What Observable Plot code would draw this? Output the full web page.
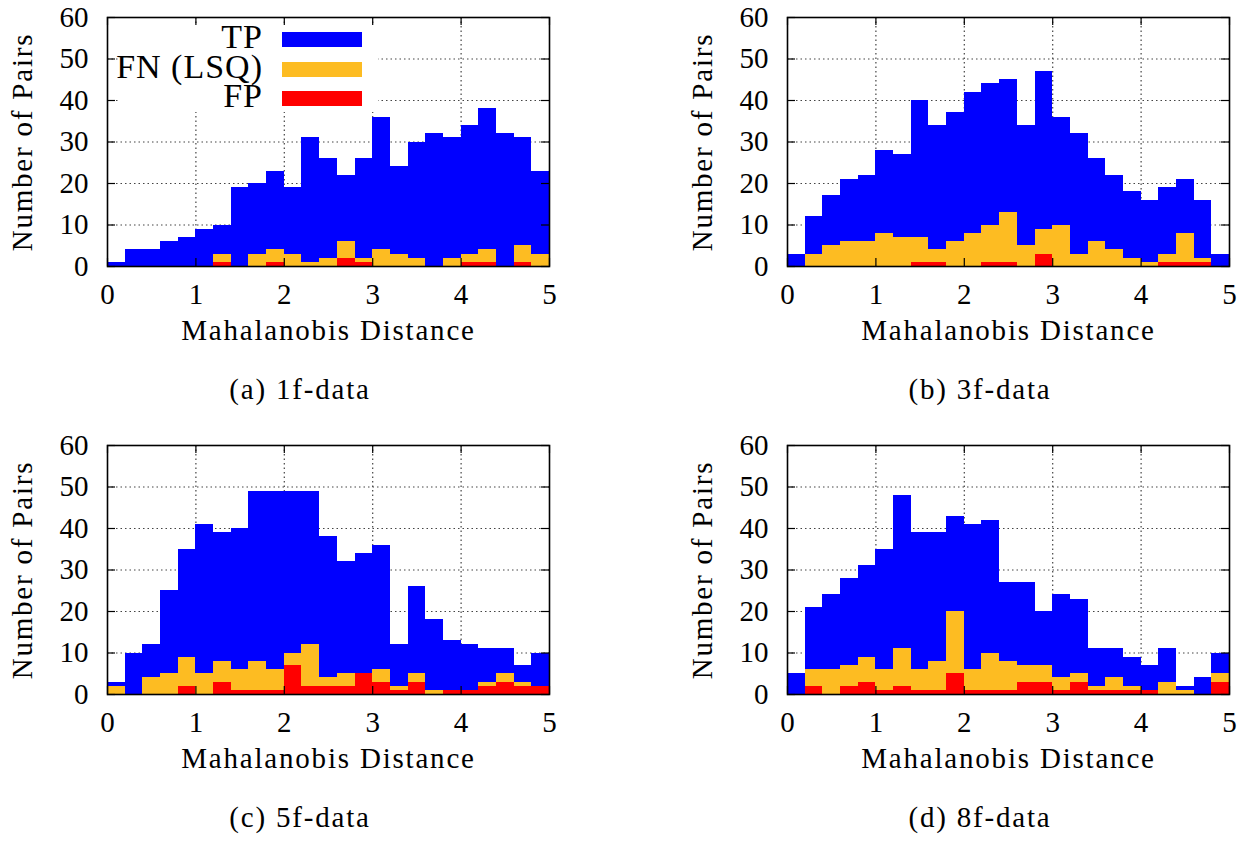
<!DOCTYPE html>
<html>
<head>
<meta charset="utf-8">
<script src="https://cdn.jsdelivr.net/npm/d3@7"></script>
<script src="https://cdn.jsdelivr.net/npm/@observablehq/plot@0.6"></script>
<style>
  html, body { margin: 0; padding: 0; background: white; }
  #root { position: relative; width: 1249px; height: 843px; background: white; font-family: "Liberation Serif", serif; color: black; }
  .panel { position: absolute; width: 624px; height: 420px; }
  .panel svg { position: absolute; left: 0; top: 0; }
  .panel svg text.lbl { letter-spacing: 1.8px; }
  .caption { position: absolute; left: 0; width: 600px; top: 375px; text-align: center; font-size: 29px; line-height: 29px; letter-spacing: 1.8px; white-space: nowrap; }
  .legend { position: absolute; left: 118px; top: 25px; width: 260px; height: 87px; background: white; }
  .lg-text { position: absolute; right: 115px; font-size: 34px; line-height: 28px; letter-spacing: 1px; white-space: nowrap; }
  .lg-sw { position: absolute; left: 164px; width: 80px; height: 15px; }
</style>
</head>
<body>
<div id="root"></div>
<script>
// ---- data ----
const binEdges = [0, 0.2, 0.4, 0.6, 0.8, 1.0, 1.2, 1.4, 1.6, 1.8, 2.0, 2.2, 2.4, 2.6, 2.8, 3.0, 3.2, 3.4, 3.6, 3.8, 4.0, 4.2, 4.4, 4.6, 4.8, 5.0];

const tp1f = [1, 4, 4, 6, 7, 9, 10, 19, 20, 23, 19, 31, 26, 22, 26, 36, 24, 30, 32, 31, 34, 38, 32, 31, 23];
const fn1f = [0, 0, 0, 0, 0, 0, 3, 0, 3, 4, 3, 1, 2, 6, 2, 4, 3, 2, 0, 2, 3, 4, 0, 5, 3];
const fp1f = [0, 0, 0, 0, 0, 0, 1, 0, 0, 1, 0, 0, 0, 2, 1, 0, 0, 0, 0, 0, 1, 1, 0, 1, 0];

const tp3f = [3, 12, 17, 21, 22, 28, 27, 40, 34, 37, 42, 44, 45, 34, 47, 36, 32, 26, 22, 18, 16, 19, 21, 16, 3];
const fn3f = [0, 3, 5, 6, 6, 8, 7, 7, 4, 6, 8, 10, 13, 5, 9, 10, 3, 6, 4, 2, 1, 3, 8, 2, 0];
const fp3f = [0, 0, 0, 0, 0, 0, 0, 1, 1, 0, 0, 1, 1, 0, 3, 0, 0, 0, 0, 0, 0, 1, 1, 1, 0];

const tp5f = [3, 10, 12, 25, 35, 41, 39, 40, 49, 49, 49, 49, 38, 32, 34, 36, 12, 26, 18, 13, 12, 11, 11, 7, 10];
const fn5f = [2, 0, 4, 5, 9, 5, 8, 6, 8, 6, 10, 12, 4, 5, 5, 6, 2, 5, 1, 1, 1, 3, 5, 3, 2];
const fp5f = [0, 0, 0, 0, 2, 0, 3, 1, 1, 1, 7, 2, 2, 2, 5, 3, 1, 3, 0, 1, 1, 2, 3, 2, 2];

const tp8f = [5, 21, 24, 28, 31, 35, 48, 39, 39, 43, 41, 42, 27, 27, 20, 24, 23, 11, 11, 9, 7, 11, 2, 4, 10];
const fn8f = [0, 6, 6, 7, 9, 6, 11, 6, 8, 20, 6, 10, 8, 7, 7, 4, 5, 2, 4, 2, 1, 3, 1, 0, 5];
const fp8f = [0, 2, 0, 2, 3, 1, 2, 1, 1, 5, 1, 1, 1, 3, 3, 1, 3, 1, 1, 1, 1, 0, 0, 0, 3];

const seriesNames = ["TP", "FN (LSQ)", "FP"];
const seriesColors = ["#0000ff", "#fdbc22", "#ff0000"];
const xTicks = [0, 1, 2, 3, 4, 5];
const yTicks = [0, 10, 20, 30, 40, 50, 60];
const xGrid = [1, 2, 3, 4];
const yGrid = [10, 20, 30, 40, 50];
const xLabel = "Mahalanobis Distance";
const yLabel = "Number of Pairs";
const captions = ["(a) 1f-data", "(b) 3f-data", "(c) 5f-data", "(d) 8f-data"];

// ---- layout ----
const W = 624, H = 360, ML = 107, MR = 75, MT = 17, MB = 94;
const FH = H - MT - MB, FW = W - ML - MR;
const TICK = 8;

function panel(tp, fn, fp) {
  const rows = tp.map((v, i) => ({x1: binEdges[i], x2: binEdges[i + 1], tp: v, fn: fn[i], fp: fp[i]}));
  const series = ["tp", "fn", "fp"];
  const grid = {stroke: "#444", strokeOpacity: 1, strokeWidth: 1.2, strokeDasharray: "1.5,3"};
  return Plot.plot({
    width: W, height: H,
    marginLeft: ML, marginRight: MR, marginTop: MT, marginBottom: MB,
    x: {domain: [0, 5]},
    y: {domain: [0, 60]},
    style: {fontFamily: "'Liberation Serif', serif", fontSize: "29px", color: "black", background: "transparent", overflow: "visible"},
    marks: [
      Plot.gridX(xGrid, grid),
      Plot.gridY(yGrid, grid),
      ...series.map((s, k) => Plot.rect(rows, {x1: "x1", x2: "x2", y1: 0, y2: s, fill: seriesColors[k], shapeRendering: "crispEdges"})),
      Plot.tickX(xTicks, {x: d => d, insetTop: FH - TICK, stroke: "black", strokeWidth: 1.2}),
      Plot.tickX(xTicks, {x: d => d, insetBottom: FH - TICK, stroke: "black", strokeWidth: 1.2}),
      Plot.tickY(yTicks, {y: d => d, insetRight: FW - TICK, stroke: "black", strokeWidth: 1.2}),
      Plot.tickY(yTicks, {y: d => d, insetLeft: FW - TICK, stroke: "black", strokeWidth: 1.2}),
      Plot.axisX(xTicks, {tickSize: 0, tickPadding: 17, label: null, fontSize: 29}),
      Plot.axisY(yTicks, {tickSize: 0, tickPadding: 19, label: null, fontSize: 29}),
      Plot.frame({stroke: "black", strokeWidth: 1.6}),
      Plot.text([xLabel], {text: d => d, frameAnchor: "bottom", dy: 73, fontSize: 29, className: "lbl"}),
      Plot.text([yLabel], {text: d => d, frameAnchor: "left", textAnchor: "middle", dx: -85, rotate: -90, fontSize: 29, className: "lbl"})
    ]
  });
}

const root = document.getElementById("root");
const panels = [
  {tp: tp1f, fn: fn1f, fp: fp1f, left: 0, top: 0, legend: true},
  {tp: tp3f, fn: fn3f, fp: fp3f, left: 680, top: 0, legend: false},
  {tp: tp5f, fn: fn5f, fp: fp5f, left: 0, top: 428, legend: false},
  {tp: tp8f, fn: fn8f, fp: fp8f, left: 680, top: 428, legend: false}
];
panels.forEach((p, i) => {
  const div = document.createElement("div");
  div.className = "panel";
  div.style.left = p.left + "px";
  div.style.top = p.top + "px";
  const svg = panel(p.tp, p.fn, p.fp);
  svg.querySelectorAll("g.lbl text, text.lbl").forEach(t => t.setAttribute("class", "lbl"));
  svg.querySelectorAll("g.lbl").forEach(g => g.querySelectorAll("text").forEach(t => t.style.letterSpacing = "1.8px"));
  div.appendChild(svg);
  if (p.legend) {
    const lg = document.createElement("div");
    lg.className = "legend";
    seriesNames.forEach((name, k) => {
      const t = document.createElement("div");
      t.className = "lg-text";
      t.textContent = name;
      t.style.top = (-2 + k * 29.5) + "px";
      lg.appendChild(t);
      const sw = document.createElement("div");
      sw.className = "lg-sw";
      sw.style.background = seriesColors[k];
      sw.style.top = (7 + k * 29.5) + "px";
      lg.appendChild(sw);
    });
    div.appendChild(lg);
  }
  const cap = document.createElement("div");
  cap.className = "caption";
  cap.textContent = captions[i];
  div.appendChild(cap);
  root.appendChild(div);
});
</script>
</body>
</html>
